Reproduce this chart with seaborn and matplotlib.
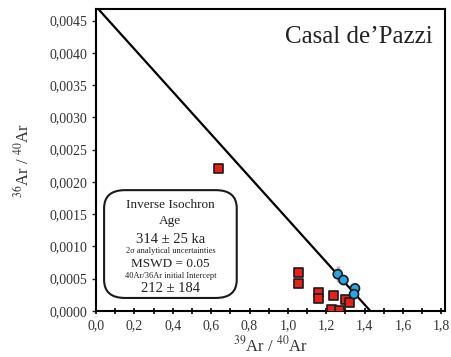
import matplotlib
matplotlib.use("Agg")
import matplotlib.pyplot as plt
import seaborn as sns
import pandas as pd
import numpy as np
from matplotlib.patches import FancyBboxPatch
from matplotlib.ticker import MultipleLocator, FuncFormatter

sns.set_theme(style="white")
plt.rcParams['font.family'] = ['Liberation Serif', 'DejaVu Serif']
plt.rcParams['mathtext.fontset'] = 'stix'

# Data
red_x = [0.64, 1.055, 1.055, 1.16, 1.16, 1.24, 1.23, 1.27, 1.30, 1.32]
red_y = [0.00221, 0.00059, 0.00042, 0.00028, 0.00020, 0.00024, 0.00002, 0.00001, 0.00018, 0.00013]
blue_x = [1.26, 1.29, 1.35, 1.345]
blue_y = [0.00057, 0.00048, 0.00035, 0.00026]
blue_err = [0.00012, 0.00008, 0.00008, 0.00006]
line_x = [0.0, 1.43]
line_y = [1 / 212, 0.0]
x_ticks = [0.0, 0.2, 0.4, 0.6, 0.8, 1.0, 1.2, 1.4, 1.6, 1.8]
y_ticks = [0.0, 0.0005, 0.0010, 0.0015, 0.0020, 0.0025, 0.0030, 0.0035, 0.0040, 0.0045]

df = pd.DataFrame({
    "x": red_x + blue_x,
    "y": red_y + blue_y,
    "step": ["excluded"] * len(red_x) + ["plateau"] * len(blue_x),
})

fig = plt.figure(figsize=(4.51, 3.57), dpi=100)
ax = fig.add_axes([0.213, 0.129, 0.774, 0.846])

# error bars (faint grey)
ax.errorbar(blue_x, blue_y, yerr=blue_err, fmt='none', ecolor='#9a9a9a', elinewidth=2.5, alpha=0.7, zorder=1)
ax.errorbar([1.25, 1.27], [0.00002, 0.00001], yerr=[0.00008, 0.00006], fmt='none', ecolor='#9a9a9a', elinewidth=2.5, alpha=0.6, zorder=1)

sns.lineplot(x=line_x, y=line_y, ax=ax, color='black', linewidth=1.6, zorder=2)

sns.scatterplot(data=df, x="x", y="y", hue="step", style="step",
                markers={"excluded": "s", "plateau": "o"},
                palette={"excluded": "#e8201a", "plateau": "#2aa6e6"},
                s=42, edgecolor='#1a1a1a', linewidth=1.2, legend=False, ax=ax, zorder=3)

ax.set_xlim(0, 1.82)
ax.set_ylim(0, 0.00468)
ax.set_xticks(x_ticks)
ax.set_yticks(y_ticks)
ax.xaxis.set_minor_locator(MultipleLocator(0.1))
ax.xaxis.set_major_formatter(FuncFormatter(lambda v, p: f"{v:.1f}".replace('.', ',')))
ax.yaxis.set_major_formatter(FuncFormatter(lambda v, p: f"{v:.4f}".replace('.', ',')))
ax.tick_params(axis='x', which='both', direction='inout', length=5, width=1.2, labelsize=10, colors='black', bottom=True)
ax.tick_params(axis='x', labelcolor='#333333')
ax.tick_params(axis='y', direction='out', length=3, width=1, labelsize=10, left=True, labelcolor='#333333')
for s in ax.spines.values():
    s.set_color('black')
    s.set_linewidth(1.5)

ax.set_xlabel(r"$^{39}$Ar / $^{40}$Ar", fontsize=12, color='#333333', labelpad=2)
ax.set_ylabel(r"$^{36}$Ar / $^{40}$Ar", fontsize=12, color='#333333', labelpad=12)

ax.text(0.965, 0.907, "Casal de\u2019Pazzi", transform=ax.transAxes, ha='right', va='center', fontsize=18, color='#222222')

# info box
box = FancyBboxPatch((0.023, 0.043), 0.38, 0.357, transform=ax.transAxes,
                     boxstyle="round,pad=0,rounding_size=0.06", fc='white', ec='#1a1a1a', lw=1.5, zorder=4)
ax.add_patch(box)
cx = 0.213
lines = [
    (0.351, "Inverse Isochron", 9.5),
    (0.298, "Age", 9.5),
    (0.235, "314 \u00b1 25 ka", 10.5),
    (0.199, "2\u03c3 analytical uncertainties", 6),
    (0.156, "MSWD = 0.05", 9.5),
    (0.116, "40Ar/36Ar initial Intercept", 6),
    (0.073, "212 \u00b1 184", 10.5),
]
for yy, t, fs in lines:
    ax.text(cx, yy, t, transform=ax.transAxes, ha='center', va='center', fontsize=fs, color='#222222', zorder=5)

fig.savefig("out.png", dpi=100)
